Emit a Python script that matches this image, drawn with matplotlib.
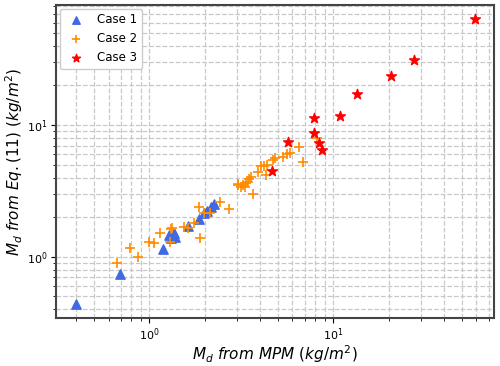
import numpy as np
import matplotlib.pyplot as plt

# case 1 (blue triangles)
x1 = [0.40, 0.69, 1.19, 1.28, 1.31, 1.36, 1.38, 1.62, 1.87, 1.97, 2.06, 2.16, 2.25]
y1 = [0.44, 0.735, 1.14, 1.46, 1.40, 1.52, 1.42, 1.72, 1.93, 2.14, 2.24, 2.40, 2.53]

# case 2 (orange crosses)
x2 = [0.67, 0.785, 0.87, 0.99, 1.06, 1.15, 1.30, 1.31, 1.33, 1.55, 1.62, 1.76,
      1.87, 1.89, 1.97, 2.14, 2.43, 2.72, 3.02, 3.05, 3.16, 3.24, 3.31, 3.35,
      3.43, 3.5, 3.58, 3.67, 3.88, 4.06, 4.2, 4.33, 4.35, 4.68, 4.84, 5.33,
      5.6, 5.78, 6.5, 6.84, 8.19]
y2 = [0.90, 1.16, 1.0, 1.29, 1.28, 1.52, 1.29, 1.64, 1.65, 1.69, 1.67, 1.81,
      2.38, 1.40, 2.14, 2.16, 2.63, 2.31, 3.5, 3.55, 3.41, 3.50, 3.37, 3.65,
      3.71, 3.9, 4.05, 2.99, 4.40, 4.88, 4.9, 4.15, 4.99, 5.42, 5.65, 5.69,
      6.0, 6.16, 6.85, 5.26, 7.93]

# case 3 (red stars)
x3 = [4.64, 5.65, 7.82, 7.82, 8.33, 8.68, 10.9, 13.5, 20.5, 27.5, 59.0]
y3 = [4.45, 7.43, 11.4, 8.75, 7.26, 6.43, 11.7, 17.1, 23.8, 31.0, 63.8]

fig = plt.figure(figsize=(5, 3.66), dpi=100)
ax = fig.add_axes([0.112, 0.131, 0.876, 0.855])

ax.scatter(x1, y1, marker='^', color='royalblue', s=45, label='Case 1', zorder=3)
ax.scatter(x2, y2, marker='+', color='darkorange', s=45, linewidths=1.2, label='Case 2', zorder=3)
ax.scatter(x3, y3, marker='*', color='red', s=55, label='Case 3', zorder=3)

ax.set_xscale('log')
ax.set_yscale('log')
ax.set_xlim(0.311, 74.7)
ax.set_ylim(0.343, 81.5)

ax.grid(True, which='both', linestyle='--', color='#c8c8c8', linewidth=0.9)
ax.set_axisbelow(True)
for s in ax.spines.values():
    s.set_color('#444444')
    s.set_linewidth(1.5)
ax.tick_params(labelsize=8, pad=2.5)

ax.set_xlabel(r'$M_d\ from\ MPM\ (kg/m^2)$', fontsize=11, labelpad=0.5)
ax.set_ylabel(r'$M_d\ from\ Eq.(11)\ (kg/m^2)$', fontsize=11, labelpad=1.5)

ax.legend(loc='upper left', fontsize=8.5, borderaxespad=0.3, markerscale=0.8,
          framealpha=1.0)

fig.savefig('out.png', dpi=100)
